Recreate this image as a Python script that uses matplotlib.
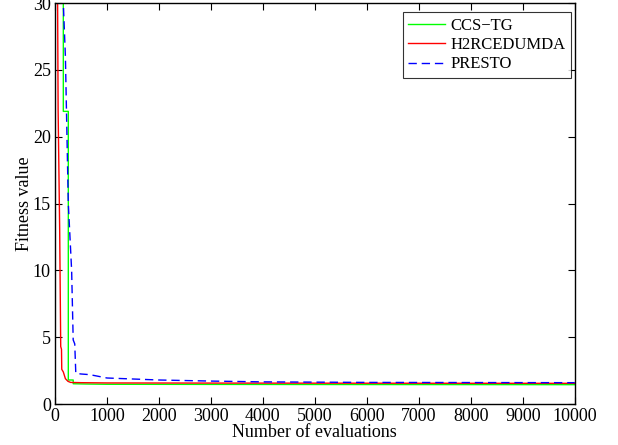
import matplotlib
matplotlib.use("Agg")
import matplotlib.pyplot as plt

# convergence curves (evaluations, fitness)
ccs_x = [0, 160, 160, 256, 256, 350, 350, 600, 1000, 3000, 6000, 10000]
ccs_y = [30, 30, 21.9, 21.9, 1.8, 1.8, 1.52, 1.50, 1.48, 1.47, 1.46, 1.45]

h2r_x = [0, 50, 60, 90, 110, 125, 130, 160, 200, 250, 300, 500, 1000, 3000, 6000, 10000]
h2r_y = [30, 30, 22, 13, 4.3, 4.1, 2.6, 2.4, 1.9, 1.7, 1.62, 1.6, 1.58, 1.57, 1.56, 1.55]

presto_x = [0, 160, 200, 256, 320, 350, 380, 400, 500, 670, 1000, 2000, 3000, 4000, 6000, 10000]
presto_y = [30, 30, 26, 15, 10, 4.8, 4.5, 2.3, 2.25, 2.2, 1.95, 1.8, 1.72, 1.66, 1.62, 1.6]

x_ticks = list(range(0, 10001, 1000))
y_ticks = [0, 5, 10, 15, 20, 25, 30]

plt.rcParams["font.family"] = ["Liberation Serif", "DejaVu Serif"]

fig = plt.figure(figsize=(6.18, 4.45), dpi=100)
ax = fig.add_axes([0.089, 0.092, 0.841, 0.901])

ax.plot(ccs_x, ccs_y, color="#00ff00", lw=1.0, label="CCS\u2212TG")
ax.plot(h2r_x, h2r_y, color="#ff0000", lw=1.0, label="H2RCEDUMDA")
ax.plot(presto_x, presto_y, color="#0000ff", lw=1.0, ls=(0, (6, 3.5)), label="PRESTO")

ax.set_xlim(0, 10000)
ax.set_ylim(0, 30)
ax.set_xticks(x_ticks)
ax.set_yticks(y_ticks)
ax.tick_params(direction="in", top=True, right=True, labelsize=13, length=5, width=0.8, pad=3)
ax.set_xlabel("Number of evaluations", fontsize=13, labelpad=-1)
ax.set_ylabel("Fitness value", fontsize=13, labelpad=0)
for s in ax.spines.values():
    s.set_linewidth(1.0)

leg = ax.legend(loc="upper right", fontsize=12, frameon=True, fancybox=False,
                edgecolor="black", handlelength=2.2, borderpad=0.35,
                labelspacing=0.2, handletextpad=0.3, borderaxespad=0,
                bbox_to_anchor=(571 / 618, 1 - 12 / 445), bbox_transform=fig.transFigure)
leg.get_frame().set_linewidth(0.8)

fig.savefig("out.png", dpi=100)
